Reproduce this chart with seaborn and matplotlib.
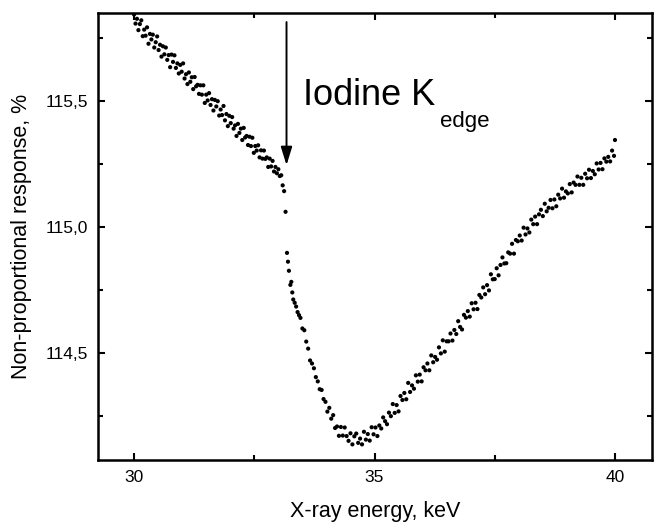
import numpy as np
import pandas as pd
import matplotlib
matplotlib.use("Agg")
import matplotlib.pyplot as plt
from matplotlib.ticker import MultipleLocator, FixedLocator, FixedFormatter
import seaborn as sns

# data (energy in keV, response in %)
# before the K-edge
left_energy = [30.00, 30.03, 30.06, 30.09, 30.12, 30.15, 30.18, 30.21, 30.24, 30.27,
               30.30, 30.33, 30.36, 30.39, 30.42, 30.45, 30.48, 30.51, 30.54, 30.57,
               30.60, 30.63, 30.66, 30.69, 30.72, 30.75, 30.78, 30.81, 30.84, 30.87,
               30.90, 30.93, 30.96, 30.99, 31.02, 31.05, 31.08, 31.11, 31.14, 31.17,
               31.20, 31.23, 31.26, 31.29, 31.32, 31.35, 31.38, 31.41, 31.44, 31.47,
               31.50, 31.53, 31.56, 31.59, 31.62, 31.65, 31.68, 31.71, 31.74, 31.77,
               31.80, 31.83, 31.86, 31.89, 31.92, 31.95, 31.98, 32.01, 32.04, 32.07,
               32.10, 32.13, 32.16, 32.19, 32.22, 32.25, 32.28, 32.31, 32.34, 32.37,
               32.40, 32.43, 32.46, 32.49, 32.52, 32.55, 32.58, 32.61, 32.64, 32.67,
               32.70, 32.73, 32.76, 32.79, 32.82, 32.85, 32.88, 32.91, 32.94, 32.97,
               33.00, 33.03, 33.06]
left_resp = [115.843, 115.807, 115.826, 115.781, 115.805, 115.820, 115.757, 115.783, 115.759, 115.792,
             115.727, 115.766, 115.744, 115.763, 115.712, 115.733, 115.756, 115.702, 115.723, 115.676,
             115.717, 115.685, 115.712, 115.663, 115.682, 115.634, 115.684, 115.655, 115.681, 115.631,
             115.649, 115.609, 115.643, 115.616, 115.649, 115.589, 115.606, 115.567, 115.613, 115.576,
             115.594, 115.547, 115.595, 115.558, 115.564, 115.528, 115.562, 115.525, 115.562, 115.492,
             115.525, 115.502, 115.531, 115.484, 115.507, 115.462, 115.504, 115.478, 115.499, 115.442,
             115.466, 115.444, 115.480, 115.423, 115.448, 115.400, 115.441, 115.412, 115.436, 115.390,
             115.403, 115.361, 115.409, 115.373, 115.390, 115.345, 115.393, 115.355, 115.361, 115.325,
             115.358, 115.321, 115.354, 115.294, 115.321, 115.303, 115.324, 115.276, 115.304, 115.271,
             115.303, 115.270, 115.276, 115.238, 115.271, 115.240, 115.262, 115.220, 115.238, 115.213,
             115.229, 115.202, 115.205]

# the drop at the edge
edge_energy = [33.09, 33.12, 33.15, 33.18, 33.20, 33.22, 33.25, 33.27, 33.29, 33.31,
               33.34, 33.37, 33.40, 33.43]
edge_resp = [115.165, 115.142, 115.060, 114.897, 114.862, 114.826, 114.770, 114.782, 114.740, 114.712,
             114.699, 114.684, 114.662, 114.650]

# after the edge
right_energy = [33.46, 33.50, 33.54, 33.58, 33.62, 33.66, 33.70, 33.74, 33.78, 33.82,
                33.86, 33.90, 33.94, 33.98, 34.02, 34.06, 34.10, 34.14, 34.18, 34.22,
                34.26, 34.30, 34.34, 34.38, 34.42, 34.46, 34.50, 34.54, 34.58, 34.62,
                34.66, 34.70, 34.74, 34.78, 34.82, 34.86, 34.90, 34.94, 34.98, 35.02,
                35.06, 35.10, 35.14, 35.18, 35.22, 35.26, 35.30, 35.34, 35.38, 35.42,
                35.46, 35.50, 35.54, 35.58, 35.62, 35.66, 35.70, 35.74, 35.78, 35.82,
                35.86, 35.90, 35.94, 35.98, 36.02, 36.06, 36.10, 36.14, 36.18, 36.22,
                36.26, 36.30, 36.34, 36.38, 36.42, 36.46, 36.50, 36.54, 36.58, 36.62,
                36.66, 36.70, 36.74, 36.78, 36.82, 36.86, 36.90, 36.94, 36.98, 37.02,
                37.06, 37.10, 37.14, 37.18, 37.22, 37.26, 37.30, 37.34, 37.38, 37.42,
                37.46, 37.50, 37.54, 37.58, 37.62, 37.66, 37.70, 37.74, 37.78, 37.82,
                37.86, 37.90, 37.94, 37.98, 38.02, 38.06, 38.10, 38.14, 38.18, 38.22,
                38.26, 38.30, 38.34, 38.38, 38.42, 38.46, 38.50, 38.54, 38.58, 38.62,
                38.66, 38.70, 38.74, 38.78, 38.82, 38.86, 38.90, 38.94, 38.98, 39.02,
                39.06, 39.10, 39.14, 39.18, 39.22, 39.26, 39.30, 39.34, 39.38, 39.42,
                39.46, 39.50, 39.54, 39.58, 39.62, 39.66, 39.70, 39.74, 39.78, 39.82,
                39.86, 39.90, 39.94, 39.98, 40.00]
right_resp = [114.639, 114.597, 114.590, 114.545, 114.517, 114.470, 114.458, 114.439, 114.404, 114.387,
              114.356, 114.353, 114.317, 114.306, 114.267, 114.282, 114.239, 114.253, 114.202, 114.208,
              114.171, 114.206, 114.172, 114.204, 114.170, 114.151, 114.181, 114.137, 114.169, 114.180,
              114.143, 114.160, 114.137, 114.187, 114.156, 114.178, 114.152, 114.205, 114.177, 114.204,
              114.170, 114.212, 114.200, 114.244, 114.229, 114.217, 114.263, 114.249, 114.297, 114.262,
              114.293, 114.268, 114.329, 114.313, 114.341, 114.316, 114.381, 114.345, 114.371, 114.358,
              114.411, 114.386, 114.414, 114.387, 114.443, 114.431, 114.458, 114.431, 114.490, 114.463,
              114.484, 114.473, 114.522, 114.498, 114.550, 114.505, 114.546, 114.546, 114.577, 114.549,
              114.591, 114.575, 114.626, 114.603, 114.593, 114.651, 114.640, 114.666, 114.644, 114.697,
              114.673, 114.699, 114.674, 114.730, 114.720, 114.760, 114.733, 114.769, 114.748, 114.812,
              114.792, 114.793, 114.836, 114.808, 114.849, 114.879, 114.855, 114.856, 114.899, 114.894,
              114.933, 114.894, 114.948, 114.943, 114.966, 114.946, 114.997, 114.970, 114.994, 114.978,
              115.029, 115.011, 115.041, 115.011, 115.050, 115.068, 115.043, 115.092, 115.062, 115.076,
              115.107, 115.074, 115.109, 115.082, 115.128, 115.113, 115.152, 115.116, 115.141, 115.133,
              115.170, 115.137, 115.176, 115.167, 115.200, 115.167, 115.195, 115.167, 115.211, 115.193,
              115.227, 115.194, 115.222, 115.209, 115.252, 115.228, 115.254, 115.229, 115.272, 115.259,
              115.278, 115.260, 115.303, 115.282, 115.345]

x_ticks = [30, 35, 40]
x_tick_labels = ["30", "35", "40"]
y_ticks = [114.5, 115.0, 115.5]
y_tick_labels = ["114,5", "115,0", "115,5"]

df = pd.DataFrame({
    "energy": left_energy + edge_energy + right_energy,
    "response": left_resp + edge_resp + right_resp,
})

sns.set_style("ticks")
plt.rcParams["font.family"] = ["Liberation Sans", "DejaVu Sans"]
plt.rcParams["text.color"] = "black"
plt.rcParams["axes.labelcolor"] = "black"
plt.rcParams["xtick.color"] = "black"
plt.rcParams["ytick.color"] = "black"

fig = plt.figure(figsize=(6.54, 5.23), dpi=100)
ax = fig.add_axes([98 / 654, 63 / 523, 554 / 654, 447 / 523])

sns.scatterplot(data=df, x="energy", y="response", ax=ax, color="black",
                s=9, linewidth=0, edgecolor="none")

ax.set_xlim(29.25, 40.77)
ax.set_ylim(114.075, 115.849)

ax.xaxis.set_major_locator(FixedLocator(x_ticks))
ax.xaxis.set_major_formatter(FixedFormatter(x_tick_labels))
ax.xaxis.set_minor_locator(MultipleLocator(2.5))
ax.yaxis.set_major_locator(FixedLocator(y_ticks))
ax.yaxis.set_major_formatter(FixedFormatter(y_tick_labels))
ax.yaxis.set_minor_locator(MultipleLocator(0.25))

ax.tick_params(which="both", direction="in", top=True, right=True, width=1.5, color="black")
ax.tick_params(which="major", length=5, labelsize=12.5, pad=7)
ax.tick_params(which="minor", length=3.5)
for sp in ax.spines.values():
    sp.set_linewidth(1.8)
    sp.set_color("black")

ax.set_xlabel("X-ray energy, keV", fontsize=15.5, labelpad=12)
ax.set_ylabel("Non-proportional response, %", fontsize=15.5, labelpad=10)

# arrow marking the iodine K-edge
ax.annotate("", xy=(33.17, 115.245), xytext=(33.17, 115.813),
            arrowprops=dict(arrowstyle="-|>,head_length=0.55,head_width=0.17",
                            lw=1.4, color="black", mutation_scale=20,
                            shrinkA=0, shrinkB=0))
ax.text(33.52, 115.484, "Iodine K", fontsize=26, ha="left", va="baseline")
ax.text(36.36, 115.398, "edge", fontsize=16, ha="left", va="baseline")

fig.savefig("out.png", dpi=100)
